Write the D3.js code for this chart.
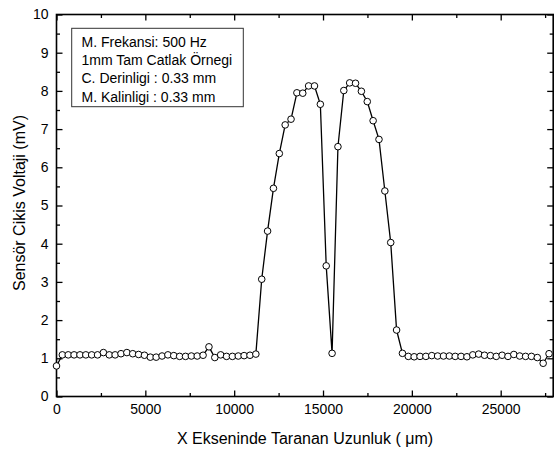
<!DOCTYPE html>
<html>
<head>
<meta charset="utf-8">
<script src="https://cdn.jsdelivr.net/npm/d3@7"></script>
<style>
body { margin: 0; background: #fff; }
text { font-family: "Liberation Sans", Arial, sans-serif; fill: #000; }
</style>
</head>
<body>
<div id="chart"></div>
<script>
// scan position along X (um) and sensor output (mV)
var scanX = [0, 330, 660, 990, 1320, 1650, 1980, 2310, 2640, 2970,
    3300, 3630, 3960, 4290, 4620, 4950, 5280, 5610, 5940, 6270,
    6600, 6930, 7260, 7590, 7920, 8250, 8580, 8910, 9240, 9570,
    9900, 10230, 10560, 10890, 11220, 11550, 11880, 12210, 12540, 12870,
    13200, 13530, 13860, 14190, 14520, 14850, 15180, 15510, 15840, 16170,
    16500, 16830, 17160, 17490, 17820, 18150, 18480, 18810, 19140, 19470,
    19800, 20130, 20460, 20790, 21120, 21450, 21780, 22110, 22440, 22770,
    23100, 23430, 23760, 24090, 24420, 24750, 25080, 25410, 25740, 26070,
    26400, 26730, 27060, 27390, 27720];
var voltage = [0.80, 1.09, 1.09, 1.09, 1.09, 1.09, 1.09, 1.09, 1.15, 1.09,
    1.09, 1.12, 1.15, 1.12, 1.10, 1.08, 1.03, 1.03, 1.06, 1.09,
    1.07, 1.05, 1.05, 1.06, 1.06, 1.08, 1.30, 1.02, 1.09, 1.05,
    1.05, 1.06, 1.07, 1.08, 1.11, 3.07, 4.33, 5.45, 6.36, 7.11,
    7.26, 7.95, 7.94, 8.13, 8.13, 7.65, 3.42, 1.13, 6.54, 8.01,
    8.21, 8.20, 7.99, 7.72, 7.22, 6.73, 5.38, 4.03, 1.74, 1.13,
    1.05, 1.04, 1.05, 1.05, 1.07, 1.06, 1.06, 1.06, 1.05, 1.05,
    1.04, 1.09, 1.11, 1.08, 1.07, 1.05, 1.08, 1.05, 1.10, 1.06,
    1.05, 1.05, 1.02, 0.87, 1.12];

var xTicks = [0, 5000, 10000, 15000, 20000, 25000];
var xMinor = [2500, 7500, 12500, 17500, 22500, 27500];
var yTicks = [0, 1, 2, 3, 4, 5, 6, 7, 8, 9, 10];
var yMinor = [0.5, 1.5, 2.5, 3.5, 4.5, 5.5, 6.5, 7.5, 8.5, 9.5];
var legendLines = ["M. Frekansi: 500 Hz", "1mm Tam Catlak Örnegi", "C. Derinligi : 0.33 mm", "M. Kalinligi : 0.33 mm"];

var svg = d3.select("#chart").append("svg")
    .attr("width", 554)
    .attr("height", 455);

var x = d3.scaleLinear().domain([0, 28000]).range([56.5, 554]);
var y = d3.scaleLinear().domain([0, 10]).range([396.5, 14.5]);

// axes, all ticks pointing inward
function addAxis(axis, tx, ty) {
    var g = svg.append("g")
        .attr("transform", "translate(" + tx + "," + ty + ")")
        .call(axis);
    g.select(".domain").remove();
    g.selectAll(".tick line").attr("stroke", "#000").attr("stroke-width", 1.3);
    g.selectAll("text").style("font-size", "14px").style("font-family", "'Liberation Sans', Arial, sans-serif");
    return g;
}

addAxis(d3.axisBottom(x).tickValues(xTicks).tickSize(-6).tickPadding(8).tickFormat(d3.format("d")), 0, y(0));
addAxis(d3.axisBottom(x).tickValues(xMinor).tickSize(-3.5).tickFormat(""), 0, y(0));
addAxis(d3.axisTop(x).tickValues(xTicks).tickSize(-6).tickFormat(""), 0, y(10));
addAxis(d3.axisTop(x).tickValues(xMinor).tickSize(-3.5).tickFormat(""), 0, y(10));

addAxis(d3.axisLeft(y).tickValues(yTicks).tickSize(-6).tickPadding(8), x(0), 0);
addAxis(d3.axisLeft(y).tickValues(yMinor).tickSize(-3.5).tickFormat(""), x(0), 0);
addAxis(d3.axisRight(y).tickValues(yTicks).tickSize(-6).tickFormat(""), x(28000) - 0.8, 0);
addAxis(d3.axisRight(y).tickValues(yMinor).tickSize(-3.5).tickFormat(""), x(28000) - 0.8, 0);

// frame
svg.append("rect")
    .attr("x", x(0))
    .attr("y", y(10))
    .attr("width", x(28000) - x(0) - 0.8)
    .attr("height", y(0) - y(10))
    .attr("fill", "none")
    .attr("stroke", "#000")
    .attr("stroke-width", 1.6);

// data line + open circles
var line = d3.line()
    .x(function (d, i) { return x(scanX[i]); })
    .y(function (d) { return y(d); });

svg.append("path")
    .datum(voltage)
    .attr("d", line)
    .attr("fill", "none")
    .attr("stroke", "#000")
    .attr("stroke-width", 1.3);

svg.append("g")
    .selectAll("circle")
    .data(voltage)
    .enter()
    .append("circle")
    .attr("cx", function (d, i) { return x(scanX[i]); })
    .attr("cy", function (d) { return y(d); })
    .attr("r", 3.3)
    .attr("fill", "#fff")
    .attr("stroke", "#000")
    .attr("stroke-width", 1);

// legend box
var legend = svg.append("g").attr("transform", "translate(71.7,28.3)");
legend.append("rect")
    .attr("width", 171.6)
    .attr("height", 78.4)
    .attr("fill", "#fff")
    .attr("stroke", "#333")
    .attr("stroke-width", 1);
legend.selectAll("text")
    .data(legendLines)
    .enter()
    .append("text")
    .attr("x", 9.8)
    .attr("y", function (d, i) { return 18.6 + i * 18.3; })
    .style("font-size", "14px")
    .text(function (d) { return d; });

// axis titles
svg.append("text")
    .attr("x", 305)
    .attr("y", 444)
    .attr("text-anchor", "middle")
    .style("font-size", "16px")
    .text("X Ekseninde Taranan Uzunluk ( μm)");

svg.append("text")
    .attr("transform", "translate(25,203) rotate(-90)")
    .attr("text-anchor", "middle")
    .style("font-size", "16px")
    .text("Sensör Cikis Voltaji (mV)");
</script>
</body>
</html>
